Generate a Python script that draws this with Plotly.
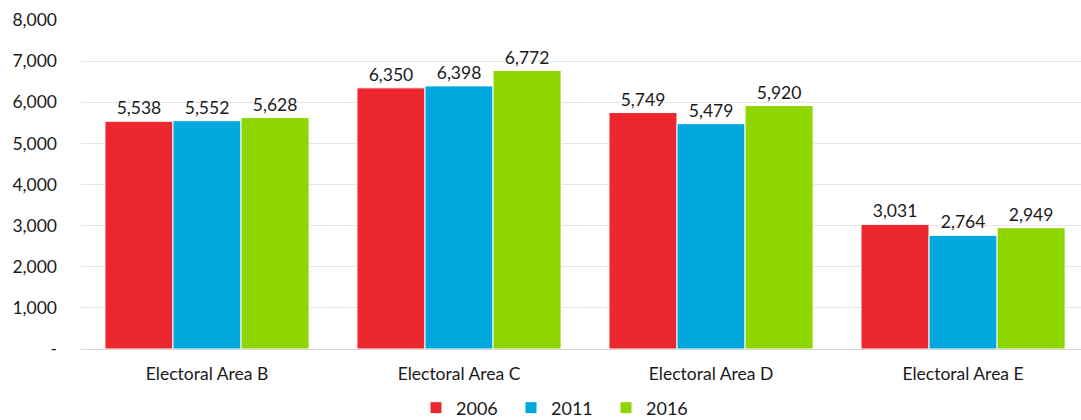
import plotly.graph_objects as go

categories = ["Electoral Area B", "Electoral Area C", "Electoral Area D", "Electoral Area E"]
years = ["2006", "2011", "2016"]
values_2006 = [5538, 6350, 5749, 3031]
values_2011 = [5552, 6398, 5479, 2764]
values_2016 = [5628, 6772, 5920, 2949]
colors = ["#EC272D", "#00A8DE", "#8DD600"]
ytick_vals = [0, 1000, 2000, 3000, 4000, 5000, 6000, 7000, 8000]
ytick_text = ["-", "1,000", "2,000", "3,000", "4,000", "5,000", "6,000", "7,000", "8,000"]

series = [values_2006, values_2011, values_2016]
font_family = "Lato, 'Open Sans', sans-serif"

fig = go.Figure()
for name, vals, col in zip(years, series, colors):
    fig.add_trace(go.Bar(
        x=categories, y=vals, name=name,
        marker=dict(color=col, line=dict(color="white", width=1)),
        text=[f"{v:,}" for v in vals], textposition="outside",
        textfont=dict(size=17.5, color="#1a1a1a", family=font_family),
        cliponaxis=False,
    ))

fig.update_layout(
    width=1081, height=420,
    margin=dict(l=81, r=0, t=20, b=0, autoexpand=False),
    paper_bgcolor="white", plot_bgcolor="white",
    barmode="group", bargap=0.19, bargroupgap=0,
    font=dict(family=font_family, size=17, color="#1a1a1a"),
    legend=dict(orientation="h", x=0.335, xanchor="left", y=0.03, yanchor="middle",
                font=dict(size=18), itemwidth=30, traceorder="normal",
                entrywidth=50, entrywidthmode="pixels",
                bgcolor="rgba(0,0,0,0)", tracegroupgap=0),
    showlegend=True,
)
fig.update_xaxes(range=[-0.5, 3.468], showgrid=False, showline=True, linecolor="#D9D9D9",
                 linewidth=1, ticks="", tickfont=dict(size=17.5), ticklabelstandoff=9,
                 automargin=False)
fig.update_yaxes(range=[0, 8000], tickvals=ytick_vals, ticktext=ytick_text,
                 domain=[71 / 400, 1], automargin=False,
                 showgrid=True, gridcolor="#E6E6E6", gridwidth=1, zeroline=False,
                 showline=False, ticks="", ticklabelstandoff=23, tickfont=dict(size=17.5))

fig.write_html("out.html")
